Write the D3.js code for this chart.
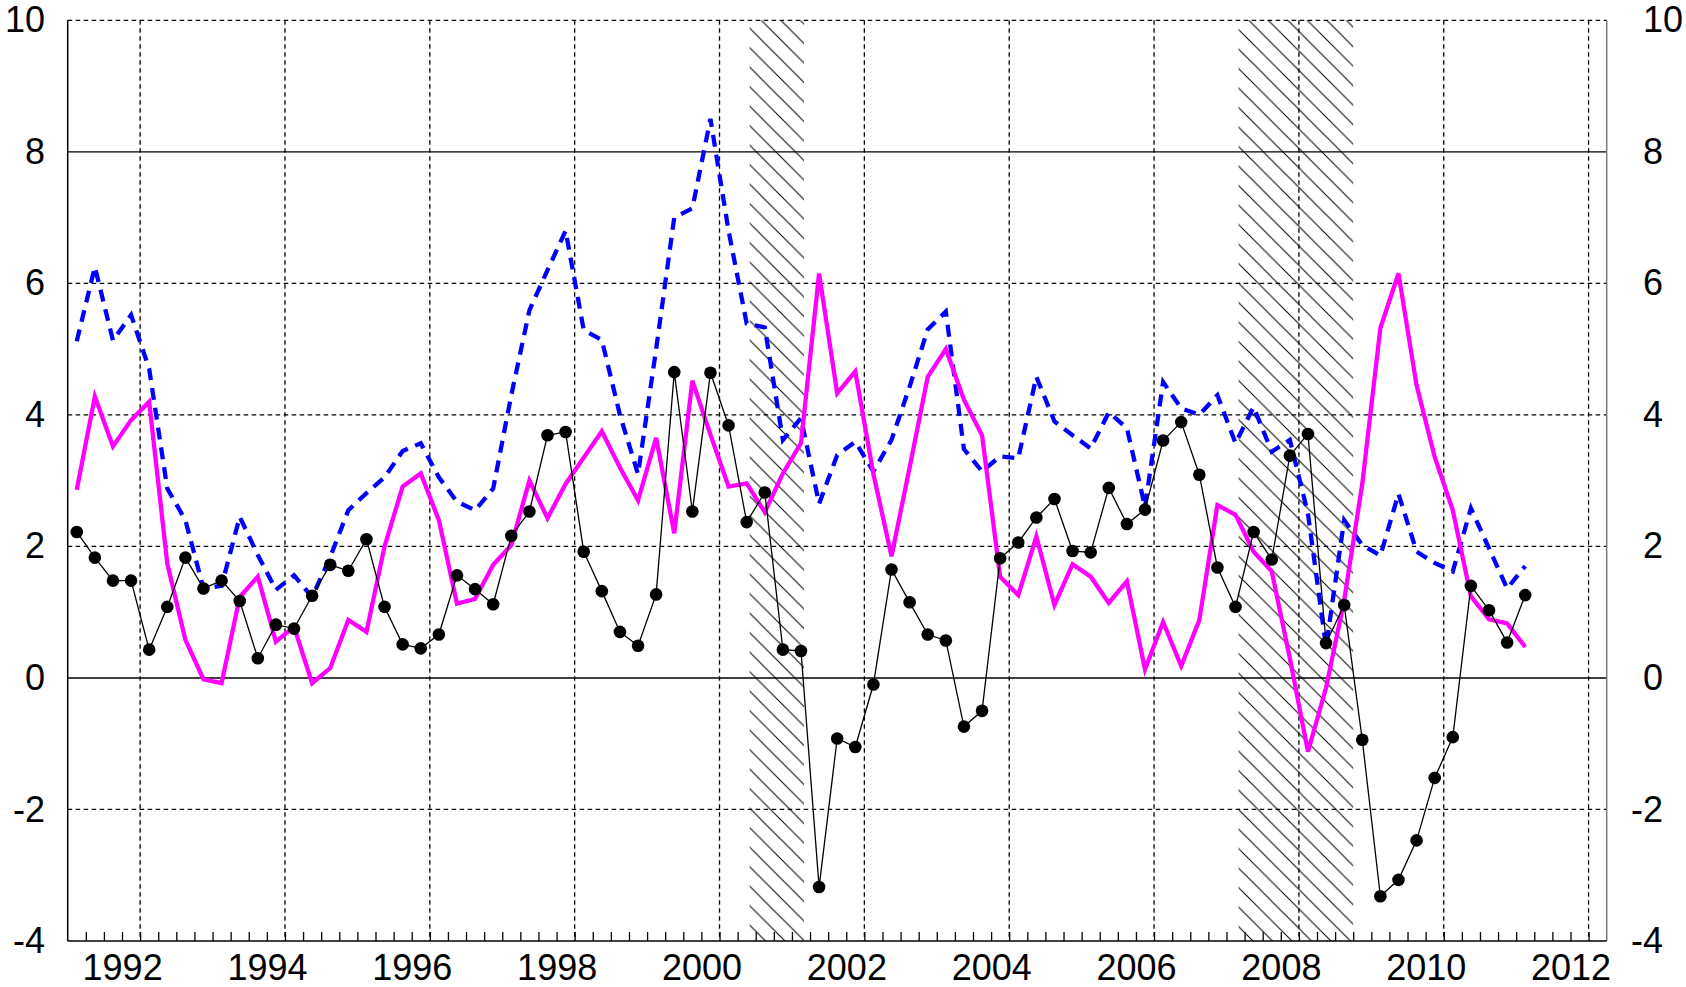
<!DOCTYPE html>
<html>
<head>
<meta charset="utf-8">
<script src="https://cdn.jsdelivr.net/npm/d3@7/dist/d3.min.js"></script>
<style>
  html, body { margin: 0; padding: 0; background: #fff; }
  svg { display: block; }
  text { font-family: "Liberation Sans", Arial, sans-serif; font-size: 36px; fill: #000; }
</style>
</head>
<body>
<script>
// Quarterly observations, 1991Q1 .. 2011Q1
const firstYear = 1991;
const quarterCount = 81;
const quarters = d3.range(quarterCount).map(i => `${firstYear + Math.floor(i / 4)}Q${(i % 4) + 1}`);

// Series drawn with black line and dots
const seriesDots = [
  2.22, 1.83, 1.48, 1.48, 0.43, 1.08, 1.83, 1.36, 1.48, 1.17,
  0.30, 0.81, 0.75, 1.25, 1.72, 1.63, 2.11, 1.08, 0.51, 0.45,
  0.66, 1.56, 1.35, 1.12, 2.16, 2.53, 3.69, 3.74, 1.92, 1.32,
  0.70, 0.49, 1.27, 4.65, 2.53, 4.64, 3.84, 2.37, 2.82, 0.43,
  0.41, -3.18, -0.92, -1.05, -0.10, 1.65, 1.15, 0.66, 0.57, -0.74,
  -0.50, 1.82, 2.06, 2.44, 2.72, 1.93, 1.91, 2.89, 2.34, 2.56,
  3.61, 3.89, 3.09, 1.68, 1.08, 2.22, 1.80, 3.38, 3.71, 0.53,
  1.11, -0.94, -3.32, -3.07, -2.47, -1.52, -0.90, 1.40, 1.03, 0.54,
  1.26
];

// Series drawn as solid magenta line
const seriesMagenta = [
  2.86, 4.28, 3.52, 3.92, 4.20, 1.74, 0.58, -0.02, -0.08, 1.23,
  1.54, 0.55, 0.78, -0.08, 0.15, 0.88, 0.70, 2.00, 2.91, 3.11,
  2.40, 1.13, 1.20, 1.72, 2.02, 3.00, 2.43, 2.95, 3.35, 3.75,
  3.20, 2.70, 3.65, 2.20, 4.52, 3.70, 2.91, 2.96, 2.52, 3.11,
  3.57, 6.15, 4.33, 4.66, 3.10, 1.85, 3.20, 4.58, 5.00, 4.23,
  3.69, 1.54, 1.26, 2.15, 1.11, 1.73, 1.54, 1.14, 1.47, 0.13,
  0.85, 0.18, 0.88, 2.63, 2.48, 1.92, 1.62, 0.30, -1.12, -0.15,
  1.18, 2.95, 5.32, 6.15, 4.45, 3.36, 2.55, 1.24, 0.89, 0.83,
  0.47
];

// Series drawn as dashed blue line
const seriesBlue = [
  5.12, 6.25, 5.13, 5.52, 4.70, 2.88, 2.40, 1.36, 1.40, 2.45,
  1.87, 1.34, 1.56, 1.23, 1.84, 2.55, 2.81, 3.05, 3.45, 3.57,
  3.05, 2.68, 2.55, 2.88, 4.30, 5.59, 6.20, 6.80, 5.29, 5.14,
  4.00, 3.10, 5.00, 7.00, 7.14, 8.50, 6.80, 5.39, 5.33, 3.62,
  3.95, 2.65, 3.39, 3.59, 3.14, 3.62, 4.43, 5.30, 5.57, 3.48,
  3.14, 3.37, 3.34, 4.58, 3.90, 3.69, 3.49, 4.04, 3.80, 2.60,
  4.50, 4.10, 4.00, 4.30, 3.57, 4.12, 3.44, 3.62, 2.50, 0.47,
  2.40, 2.02, 1.86, 2.80, 1.92, 1.75, 1.62, 2.58, 1.97, 1.36,
  1.70
];

// Shaded periods (start, end) in fractional years
const shadedPeriods = [[2000.417, 2001.167], [2007.167, 2008.75]];

// Axis ticks
const yearTicks = [1992, 1994, 1996, 1998, 2000, 2002, 2004, 2006, 2008, 2010, 2012];
const valueTicks = [-4, -2, 0, 2, 4, 6, 8, 10];
const solidValueLines = [0, 8];

const W = 1686, H = 987;
const plot = { left: 67.7, right: 1606.7, top: 20.3, bottom: 941 };

const x = d3.scaleLinear().domain([1991, 2012.25]).range([plot.left, plot.right]);
const y = d3.scaleLinear().domain([-4, 10]).range([plot.bottom, plot.top]);

// quarter label -> mid-quarter position on the time axis
const tq = q => {
  const [yr, qq] = q.split("Q").map(Number);
  return yr + (qq - 0.5) / 4;
};

// plain hyphen for negatives
const fmt = d => String(d);
const fontFamily = '"Liberation Sans", Arial, sans-serif';

const svg = d3.select("body").append("svg").attr("width", W).attr("height", H);

// hatch pattern for shaded periods
const defs = svg.append("defs");
const hatch = defs.append("pattern")
  .attr("id", "hatch").attr("patternUnits", "userSpaceOnUse")
  .attr("width", 19.5).attr("height", 19.5);
hatch.append("path")
  .attr("d", "M-2,-2L21.5,21.5M-2,17.5L2,21.5M17.5,-2L21.5,2")
  .attr("stroke", "#000").attr("stroke-width", 1).attr("fill", "none");

svg.append("g").selectAll("rect").data(shadedPeriods).join("rect")
  .attr("x", d => x(d[0]))
  .attr("width", d => x(d[1]) - x(d[0]))
  .attr("y", plot.top)
  .attr("height", plot.bottom - plot.top)
  .attr("fill", "url(#hatch)");

// grid
const grid = svg.append("g");
grid.selectAll("line.v").data(yearTicks).join("line")
  .attr("x1", d => x(d)).attr("x2", d => x(d))
  .attr("y1", plot.top).attr("y2", plot.bottom)
  .attr("stroke", "#000").attr("stroke-width", 1.3).attr("stroke-dasharray", "4.5,3.5");
grid.selectAll("line.h").data(valueTicks.filter(v => v > -4 && !solidValueLines.includes(v))).join("line")
  .attr("x1", plot.left).attr("x2", plot.right)
  .attr("y1", d => y(d)).attr("y2", d => y(d))
  .attr("stroke", "#000").attr("stroke-width", 1.3).attr("stroke-dasharray", "4.5,3.5");
grid.selectAll("line.s").data(solidValueLines).join("line")
  .attr("x1", plot.left).attr("x2", plot.right)
  .attr("y1", d => y(d)).attr("y2", d => y(d))
  .attr("stroke", "#000").attr("stroke-width", 1.4);

// frame: left and bottom black, right grey
svg.append("line").attr("x1", plot.left).attr("x2", plot.left)
  .attr("y1", plot.top).attr("y2", plot.bottom).attr("stroke", "#000").attr("stroke-width", 1.5);
svg.append("line").attr("x1", plot.right).attr("x2", plot.right)
  .attr("y1", plot.top).attr("y2", plot.bottom).attr("stroke", "#7a7a7a").attr("stroke-width", 1.5);
svg.append("line").attr("x1", plot.left).attr("x2", plot.right)
  .attr("y1", plot.bottom).attr("y2", plot.bottom).attr("stroke", "#000").attr("stroke-width", 1.5);

// quarterly minor ticks along the bottom, pointing inward
const quarterTicks = d3.range(1991.25, 2012.25, 0.25);
const minorAxis = d3.axisBottom(x).tickValues(quarterTicks).tickSize(-9).tickFormat("");
const gMinor = svg.append("g").attr("transform", `translate(0,${plot.bottom})`).call(minorAxis);
gMinor.select(".domain").remove();
gMinor.selectAll(".tick line").attr("stroke", "#000").attr("stroke-width", 1.3);

// year labels
const yearAxis = d3.axisBottom(x).tickValues(yearTicks).tickSize(0).tickPadding(0).tickFormat(fmt);
const gYears = svg.append("g").attr("transform", `translate(0,${plot.bottom})`).call(yearAxis);
gYears.select(".domain").remove();
gYears.selectAll(".tick text")
  .attr("y", 39).attr("dy", 0).attr("dx", -18)
  .style("font-family", fontFamily).style("font-size", "36px").attr("fill", "#000");

// value labels, left
const leftAxis = d3.axisLeft(y).tickValues(valueTicks).tickSize(0).tickPadding(22.7).tickFormat(fmt);
const gLeft = svg.append("g").attr("transform", `translate(${plot.left},0)`).call(leftAxis);
gLeft.select(".domain").remove();
gLeft.selectAll(".tick text")
  .style("font-family", fontFamily).style("font-size", "36px").attr("fill", "#000");

// value labels, right (minus sign hangs to the left)
const rightAxis = d3.axisRight(y).tickValues(valueTicks).tickSize(0).tickPadding(36.3).tickFormat(fmt);
const gRight = svg.append("g").attr("transform", `translate(${plot.right},0)`).call(rightAxis);
gRight.select(".domain").remove();
gRight.selectAll(".tick text")
  .attr("dx", d => d < 0 ? "-0.333em" : 0)
  .style("font-family", fontFamily).style("font-size", "36px").attr("fill", "#000");

// series
const line = d3.line().x(d => x(tq(d.q))).y(d => y(d.v));
const zip = vals => quarters.map((q, i) => ({ q, v: vals[i] }));

svg.append("path").datum(zip(seriesBlue))
  .attr("d", line).attr("fill", "none")
  .attr("stroke", "#0000ff").attr("stroke-width", 4.3)
  .attr("stroke-dasharray", "12,8").attr("stroke-linejoin", "miter");

svg.append("path").datum(zip(seriesMagenta))
  .attr("d", line).attr("fill", "none")
  .attr("stroke", "#ff00ff").attr("stroke-width", 4.3).attr("stroke-linejoin", "miter");

const dots = zip(seriesDots);
svg.append("path").datum(dots)
  .attr("d", line).attr("fill", "none")
  .attr("stroke", "#000").attr("stroke-width", 1.3);
svg.append("g").selectAll("circle").data(dots).join("circle")
  .attr("cx", d => x(tq(d.q))).attr("cy", d => y(d.v)).attr("r", 6.3).attr("fill", "#000");
</script>
</body>
</html>
